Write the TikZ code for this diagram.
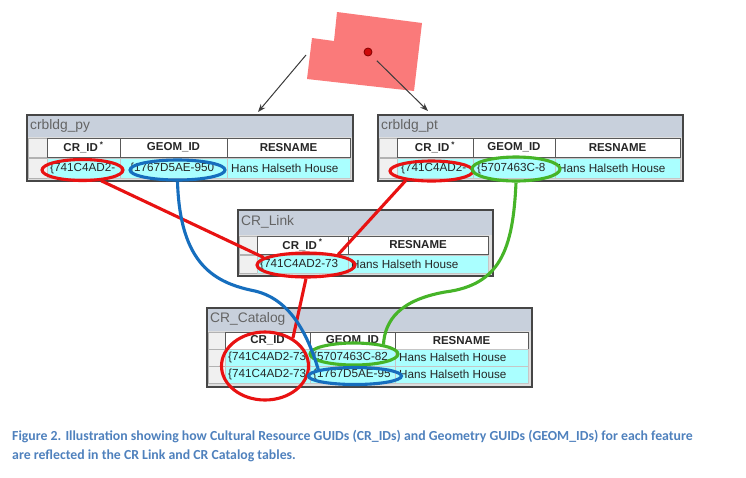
\documentclass[tikz,border=0pt]{standalone}
\usepackage{fontspec}
\setmainfont{Liberation Sans}
\newfontfamily\capfont{Carlito}
\usepackage{xcolor}
\usepackage{tikz}
\usetikzlibrary{arrows.meta,shapes.geometric}

\definecolor{parcelfill}{RGB}{250,122,122}
\definecolor{dotred}{RGB}{205,10,10}
\definecolor{dotdark}{RGB}{130,0,0}
\definecolor{pointergray}{RGB}{60,60,60}
\definecolor{barblue}{RGB}{200,208,220}
\definecolor{framegray}{RGB}{70,70,70}
\definecolor{bodygray}{RGB}{222,222,222}
\definecolor{rowcyan}{RGB}{170,255,255}
\definecolor{titlegray}{RGB}{100,100,100}
\definecolor{ringred}{RGB}{232,18,18}
\definecolor{ringblue}{RGB}{22,110,190}
\definecolor{ringgreen}{RGB}{70,180,40}
\definecolor{capblue}{RGB}{79,129,189}

\begin{document}
\begin{tikzpicture}[x=1pt,y=-1pt]
\tikzstyle{every node}+=[inner sep=0pt]
\tikzstyle{pointer}=[draw=pointergray, line width=1pt, -{Stealth[length=8pt,width=6pt]}]
\tikzstyle{bar}=[fill=barblue]
\tikzstyle{body}=[fill=bodygray]
\tikzstyle{frame}=[draw=framegray, line width=1.4pt]
\tikzstyle{headcell}=[draw=gray!70!black, fill=white, line width=0.6pt]
\tikzstyle{selcell}=[draw=gray!60, fill=gray!12, line width=0.6pt]
\tikzstyle{datacell}=[draw=gray!45, fill=rowcyan, line width=0.6pt]
\tikzstyle{titletext}=[anchor=west, text=titlegray, font=\fontsize{13.8}{14}\selectfont]
\tikzstyle{headtext}=[font=\fontsize{11.5}{12}\selectfont\bfseries, text=black!85]
\tikzstyle{datatext}=[anchor=west, font=\fontsize{11.7}{12}\selectfont, text=black!85]
\tikzstyle{ring}=[ellipse, draw, line width=3.1pt]
\tikzstyle{link}=[line width=3.1pt]

\useasboundingbox (0,0) rectangle (746,477);

% parcel and its point
\fill [parcelfill] (337,12) -- (422,23) -- (414,91) -- (307,79) -- (312,38) -- (334,41) -- cycle;
\node [circle, fill=dotred, draw=dotdark, line width=0.8pt, minimum size=8pt] (parcelDot) at (368,52) {};
\coordinate (parcelW) at (306,55);
\coordinate (pyIn) at (258,112);
\coordinate (ptIn) at (428,111);
\draw [pointer] (parcelW) -- (pyIn);
\draw [pointer, shorten <=8pt] (parcelDot) -- (ptIn);

% crbldg_py
\fill [bar] (27,115) rectangle (353,137);
\fill [body] (27,137) rectangle (353,181);
\draw [selcell] (28,138) rectangle (47,157);
\draw [headcell] (47,138) rectangle (120,157);
\draw [headcell] (120,138) rectangle (227,157);
\draw [headcell] (227,138) rectangle (350,157);
\draw [selcell] (28,158) rectangle (47,178);
\draw [datacell] (47,158) rectangle (120,178);
\draw [datacell] (120,158) rectangle (227,178);
\draw [datacell] (227,158) rectangle (350,178);
\draw [frame] (27,181) -- (27,115) -- (353,115) -- (353,181) -- cycle;
\node [titletext] (pyTitle) at (30,126) {crbldg\_py};
\node [headtext] (pyHCr) at (83.5,147.5) {CR\_ID\,\textsuperscript{*}};
\node [headtext] (pyHGeom) at (173.5,147.5) {GEOM\_ID};
\node [headtext] (pyHRes) at (288.5,147.5) {RESNAME};
\node [datatext] (pyDCr) at (50,168) {\{741C4AD2-};
\node [datatext] (pyDGeom) at (130,168) {\{1767D5AE-950};
\node [datatext] (pyDRes) at (231,168) {Hans Halseth House};

% crbldg_pt
\fill [bar] (378,115) rectangle (683,137);
\fill [body] (378,137) rectangle (683,181);
\draw [selcell] (379,138) rectangle (397,157);
\draw [headcell] (397,138) rectangle (473,157);
\draw [headcell] (473,138) rectangle (555,157);
\draw [headcell] (555,138) rectangle (680,157);
\draw [selcell] (379,158) rectangle (397,178);
\draw [datacell] (397,158) rectangle (473,178);
\draw [datacell] (473,158) rectangle (555,178);
\draw [datacell] (555,158) rectangle (680,178);
\draw [frame] (378,181) -- (378,115) -- (683,115) -- (683,181) -- cycle;
\node [titletext] (ptTitle) at (381,126) {crbldg\_pt};
\node [headtext] (ptHCr) at (435,147.5) {CR\_ID\,\textsuperscript{*}};
\node [headtext] (ptHGeom) at (514,147.5) {GEOM\_ID};
\node [headtext] (ptHRes) at (617.5,147.5) {RESNAME};
\node [datatext] (ptDCr) at (401,168) {\{741C4AD2-};
\node [datatext] (ptDGeom) at (477,168) {\{5707463C-8};
\node [datatext] (ptDRes) at (558,168) {Hans Halseth House};

% CR_Link
\fill [bar] (238,210) rectangle (493,235);
\fill [body] (238,235) rectangle (493,276);
\draw [selcell] (239,236) rectangle (257,254);
\draw [headcell] (257,236) rectangle (348,254);
\draw [headcell] (348,236) rectangle (488,254);
\draw [selcell] (239,255) rectangle (257,273);
\draw [datacell] (257,255) rectangle (348,273);
\draw [datacell] (348,255) rectangle (488,273);
\draw [frame] (238,276) -- (238,210) -- (493,210) -- (493,276) -- cycle;
\node [titletext] (linkTitle) at (241,222) {CR\_Link};
\node [headtext] (linkHCr) at (302.5,245) {CR\_ID\,\textsuperscript{*}};
\node [headtext] (linkHRes) at (418,245) {RESNAME};
\node [datatext] (linkDCr) at (260,264.5) {\{741C4AD2-73};
\node [datatext] (linkDRes) at (351,264.5) {Hans Halseth House};

% CR_Catalog
\fill [bar] (207,308) rectangle (532,331);
\fill [body] (207,331) rectangle (532,387);
\draw [selcell] (208,332) rectangle (225,349);
\draw [headcell] (225,332) rectangle (310,349);
\draw [headcell] (310,332) rectangle (395,349);
\draw [headcell] (395,332) rectangle (528,349);
\draw [selcell] (208,349) rectangle (225,366);
\draw [datacell] (225,349) rectangle (310,366);
\draw [datacell] (310,349) rectangle (395,366);
\draw [datacell] (395,349) rectangle (528,366);
\draw [selcell] (208,366) rectangle (225,383);
\draw [datacell] (225,366) rectangle (310,383);
\draw [datacell] (310,366) rectangle (395,383);
\draw [datacell] (395,366) rectangle (528,383);
\draw [frame] (207,387) -- (207,308) -- (532,308) -- (532,387) -- cycle;
\node [titletext] (catTitle) at (210,319) {CR\_Catalog};
\node [headtext] (catHCr) at (267.5,340.5) {CR\_ID};
\node [headtext] (catHGeom) at (352.5,340.5) {GEOM\_ID};
\node [headtext] (catHRes) at (461.5,340.5) {RESNAME};
\node [datatext] (catDCr1) at (228,357.5) {\{741C4AD2-73};
\node [datatext] (catDGeom1) at (313,357.5) {\{5707463C-82};
\node [datatext] (catDRes1) at (399,357.5) {Hans Halseth House};
\node [datatext] (catDCr2) at (228,374.5) {\{741C4AD2-73};
\node [datatext] (catDGeom2) at (313,374.5) {\{1767D5AE-95};
\node [datatext] (catDRes2) at (399,374.5) {Hans Halseth House};

% rings round the ids
\node [ring, draw=ringred, minimum width=81pt, minimum height=21pt] (pyCr) at (82.5,170) {};
\node [ring, draw=ringblue, minimum width=95pt, minimum height=20pt] (pyGeom) at (177.5,170) {};
\node [ring, draw=ringred, minimum width=83pt, minimum height=20pt] (ptCr) at (431.5,171) {};
\node [ring, draw=ringgreen, minimum width=88pt, minimum height=24pt] (ptGeom) at (516,169) {};
\node [ring, draw=ringred, minimum width=98pt, minimum height=24pt] (linkCr) at (306,265) {};
\node [ring, draw=ringred, minimum width=87pt, minimum height=68pt] (catCr) at (265,366) {};
\node [ring, draw=ringgreen, minimum width=88pt, minimum height=22pt] (catGeomG) at (354,354) {};
\node [ring, draw=ringblue, minimum width=93pt, minimum height=17pt] (catGeomB) at (355,376) {};

% links between the ids
\draw [link, ringred] (pyCr.-30) -- (linkCr.170);
\draw [link, ringred] (ptCr.-160) -- (linkCr.18);
\draw [link, ringred] (linkCr.south) -- (catCr.45);
\draw [link, ringblue] (pyGeom.south) .. controls (180,265) and (215,283) .. (255,291)
  .. controls (285,298) and (305,325) .. (catGeomB.170);
\draw [link, ringgreen] (ptGeom.south) .. controls (513,250) and (500,285) .. (445,292)
  .. controls (400,300) and (385,320) .. (catGeomG.18);

% caption
\node [anchor=north west, align=left, text=capblue, font=\capfont\bfseries\fontsize{13.8}{19}\selectfont] (caption) at (12,430)
  {Figure 2. Illustration showing how Cultural Resource GUIDs (CR\_IDs) and Geometry GUIDs (GEOM\_IDs) for each feature\\
   are reflected in the CR Link and CR Catalog tables.};
\end{tikzpicture}
\end{document}
